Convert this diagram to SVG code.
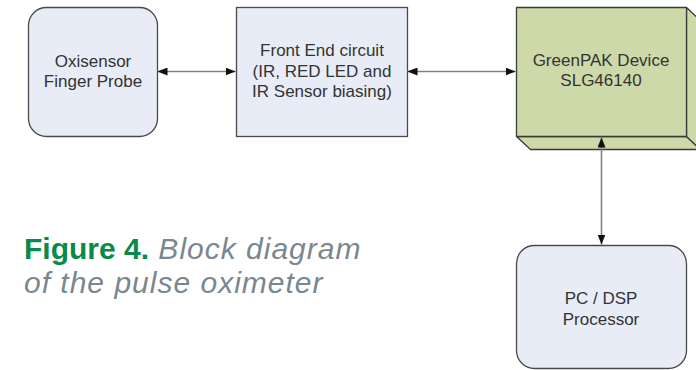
<svg xmlns="http://www.w3.org/2000/svg" width="696" height="370" viewBox="0 0 696 370">
<defs>
<style>
.box{fill:#e8ecf6;stroke:#4a4a4a;stroke-width:1.3}
.gp{fill:#cdd9a8;stroke:#3a3a3a;stroke-width:1.3;stroke-linejoin:round}
.lbl{font-family:"Liberation Sans",Arial,sans-serif;font-size:17px;fill:#333;text-anchor:middle}
.conn{stroke:#808080;stroke-width:1.6;fill:none}
.cap1{font-family:"Liberation Sans",Arial,sans-serif;font-size:30px;font-weight:bold;fill:#0a8a48}
.cap2{font-family:"Liberation Sans",Arial,sans-serif;font-size:30px;font-style:italic;fill:#7a8790;letter-spacing:1px}
</style>
<marker id="ah" viewBox="0 0 10 8" refX="10" refY="4" markerWidth="10" markerHeight="8" markerUnits="userSpaceOnUse" orient="auto-start-reverse">
<path d="M0,0 L10,4 L0,8 Z" fill="#111"/>
</marker>
</defs>
<g id="oxisensor">
<rect class="box" x="28.5" y="7.5" width="129" height="129" rx="18"/>
<text class="lbl" x="93" y="67">Oxisensor</text>
<text class="lbl" x="93" y="87">Finger Probe</text>
</g>
<g id="frontend">
<rect class="box" x="236.5" y="7.5" width="171" height="129"/>
<text class="lbl" x="322" y="56">Front End circuit</text>
<text class="lbl" x="322" y="77">(IR, RED LED and</text>
<text class="lbl" x="322" y="97">IR Sensor biasing)</text>
</g>
<g id="greenpak">
<path class="gp" d="M516.5,136.5 L530.5,149.5 L700.5,149.5 L686.5,136.5 Z"/>
<path class="gp" d="M686.5,7.5 L700.5,20.5 L700.5,149.5 L686.5,136.5 Z"/>
<rect class="gp" x="516.5" y="7.5" width="170" height="129"/>
<text class="lbl" x="601" y="66">GreenPAK Device</text>
<text class="lbl" x="601" y="86">SLG46140</text>
</g>
<g id="pcdsp">
<rect class="box" x="516.5" y="245.5" width="170" height="123" rx="18"/>
<text class="lbl" x="601" y="304">PC / DSP</text>
<text class="lbl" x="601" y="325">Processor</text>
</g>
<g id="connectors">
<line class="conn" x1="157.5" y1="71.5" x2="235.5" y2="71.5" marker-start="url(#ah)" marker-end="url(#ah)"/>
<line class="conn" x1="407.5" y1="71.5" x2="515.5" y2="71.5" marker-start="url(#ah)" marker-end="url(#ah)"/>
<line class="conn" x1="601.5" y1="137.5" x2="601.5" y2="244.5" marker-start="url(#ah)" marker-end="url(#ah)"/>
</g>
<g id="caption">
<text x="24" y="259"><tspan class="cap1">Figure 4.</tspan><tspan class="cap2"> Block diagram</tspan></text>
<text class="cap2" x="24" y="293">of the pulse oximeter</text>
</g>
</svg>
